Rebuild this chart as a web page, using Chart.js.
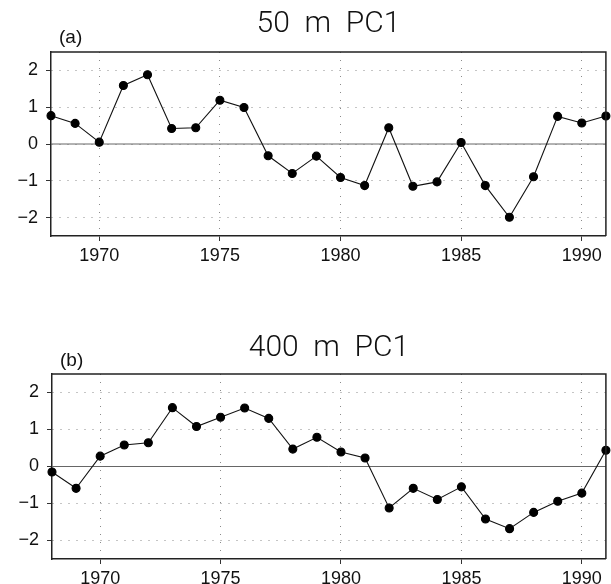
<!DOCTYPE html>
<html>
<head>
<meta charset="utf-8">
<script src="https://cdn.jsdelivr.net/npm/chart.js@4.4.1/dist/chart.umd.min.js"></script>
<style>
  body { margin: 0; background: #fff; }
  canvas { display: block; }
</style>
</head>
<body>
<canvas id="pc50" width="611" height="292"></canvas>
<canvas id="pc400" width="611" height="292"></canvas>
<script>
const years = [1968, 1969, 1970, 1971, 1972, 1973, 1974, 1975, 1976, 1977, 1978, 1979,
               1980, 1981, 1982, 1983, 1984, 1985, 1986, 1987, 1988, 1989, 1990, 1991];
const pc50 = [0.77, 0.56, 0.05, 1.59, 1.88, 0.42, 0.44, 1.19, 0.99, -0.32, -0.80, -0.33,
              -0.91, -1.13, 0.44, -1.15, -1.03, 0.04, -1.13, -1.99, -0.89, 0.75, 0.57, 0.76];
const pc400 = [-0.15, -0.59, 0.28, 0.58, 0.64, 1.59, 1.08, 1.33, 1.58, 1.30, 0.47, 0.79,
               0.39, 0.23, -1.12, -0.59, -0.89, -0.55, -1.42, -1.68, -1.24, -0.94, -0.72, 0.44];
const xTicks = [1970, 1975, 1980, 1985, 1990];
const yTicks = [-2, -1, 0, 1, 2];

const tickFont = { family: "'Liberation Sans', Arial, sans-serif", size: 18 };

// title, panel letter and the top/right sides of the frame
const decor = {
  id: 'decor',
  afterDraw(chart, args, opts) {
    const { ctx, chartArea: a } = chart;
    ctx.save();
    ctx.fillStyle = '#111';
    ctx.textAlign = 'center';
    ctx.textBaseline = 'middle';
    ctx.font = "300 30px Roboto, 'Liberation Sans', sans-serif";
    ctx.fillText(opts.title, (a.left + a.right) / 2, opts.titleY);
    ctx.font = "19px 'Liberation Sans', Arial, sans-serif";
    ctx.textAlign = 'left';
    ctx.fillText(opts.letter, a.left + 8, opts.letterY);
    ctx.strokeStyle = '#222';
    ctx.lineWidth = 1.5;
    ctx.beginPath();
    ctx.moveTo(a.left, a.top);
    ctx.lineTo(a.right, a.top);
    ctx.lineTo(a.right, a.bottom);
    ctx.stroke();
    ctx.restore();
  }
};

function makeChart(id, values, title, letter, padTop, xHeight, yWidth, titleY, letterY) {
  return new Chart(document.getElementById(id), {
    type: 'line',
    data: {
      datasets: [{
        data: years.map((y, i) => ({ x: y, y: values[i] })),
        borderColor: '#111',
        borderWidth: 1.1,
        pointRadius: 4,
        pointBackgroundColor: '#000',
        pointBorderColor: '#000',
        tension: 0,
        clip: 5
      }, {
        data: [{ x: years[0], y: 0 }, { x: years[years.length - 1], y: 0 }],
        borderColor: '#666',
        borderWidth: 1,
        pointRadius: 0
      }]
    },
    options: {
      responsive: false,
      animation: false,
      devicePixelRatio: 1,
      layout: { padding: { top: padTop, right: 2, left: 0, bottom: 0 } },
      plugins: {
        legend: { display: false },
        tooltip: { enabled: false },
        decor: { title: title, letter: letter, titleY: titleY, letterY: letterY }
      },
      scales: {
        x: {
          type: 'linear',
          min: years[0],
          max: years[years.length - 1],
          afterBuildTicks: s => { s.ticks = xTicks.map(v => ({ value: v })); },
          afterFit: s => { s.height = xHeight; },
          ticks: { font: tickFont, color: '#111', padding: 4, maxRotation: 0, callback: v => String(v) },
          grid: { color: '#8a8a8a', tickColor: '#333', tickLength: 5, tickBorderDash: [] },
          border: { display: true, color: '#222', width: 1.5, dash: [1, 7] }
        },
        y: {
          min: -2.5,
          max: 2.5,
          afterBuildTicks: s => { s.ticks = yTicks.map(v => ({ value: v })); },
          afterFit: s => { s.width = yWidth; },
          ticks: { font: tickFont, color: '#111', padding: 8, callback: v => v < 0 ? '\u2212' + Math.abs(v) : String(v) },
          grid: { color: '#8a8a8a', tickColor: '#333', tickLength: 5, tickBorderDash: [] },
          border: { display: true, color: '#222', width: 1.5, dash: [1, 7] }
        }
      }
    },
    plugins: [decor]
  });
}

makeChart('pc50', pc50, '50  m  PC1', '(a)', 52, 56, 51, 24, 38);
makeChart('pc400', pc400, '400  m  PC1', '(b)', 82, 25, 52, 56, 69);
</script>
</body>
</html>
